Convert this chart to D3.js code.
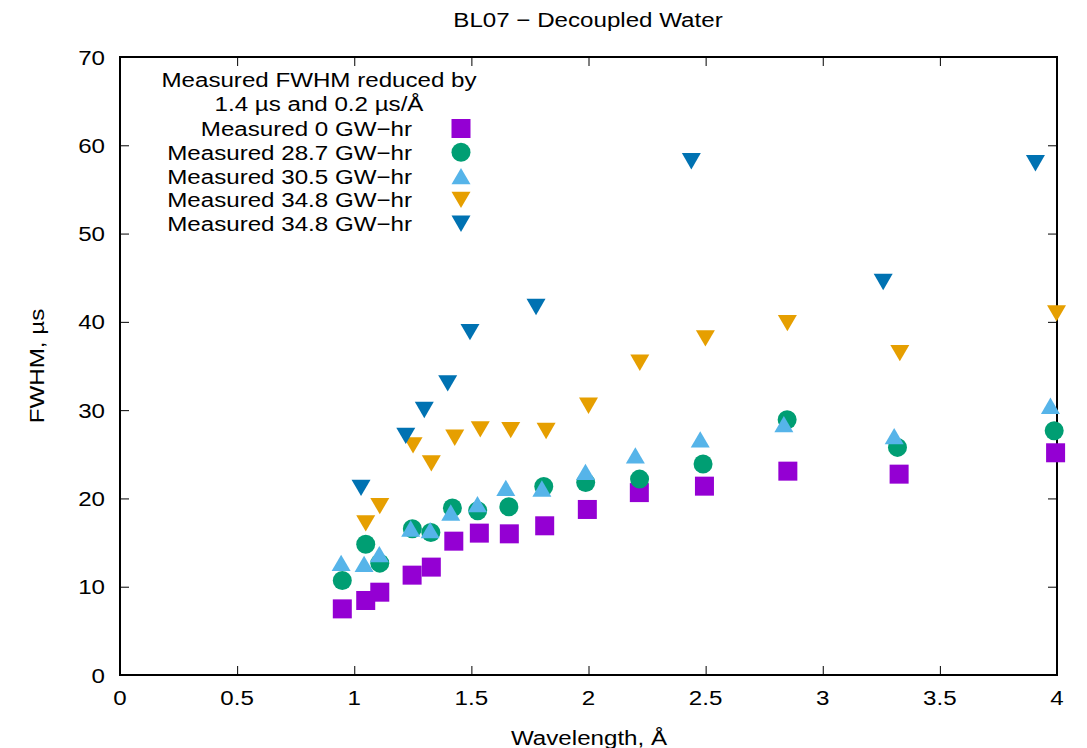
<!DOCTYPE html>
<html><head><meta charset="utf-8">
<script src="https://cdn.jsdelivr.net/npm/d3@7"></script>
<style>body{margin:0;background:#fff}svg{display:block}text{font-family:"Liberation Sans",Arial,sans-serif;fill:#000}</style>
</head><body><svg id="c" width="1087" height="748"></svg>
<script>
const title = "BL07 \u2212 Decoupled Water";
const xTitle = "Wavelength, \u00C5";
const yTitle = "FWHM, \u00B5s";
const xTicks = [0,0.5,1,1.5,2,2.5,3,3.5,4];
const yTicks = [0,10,20,30,40,50,60,70];
const legendHeader = ["Measured FWHM reduced by","1.4 \u00B5s and 0.2 \u00B5s/\u00C5"];
const seriesNames = ["Measured 0 GW\u2212hr","Measured 28.7 GW\u2212hr","Measured 30.5 GW\u2212hr","Measured 34.8 GW\u2212hr","Measured 34.8 GW\u2212hr"];
const seriesColors = ["#9400D3","#009E73","#56B4E9","#E69F00","#0072B2"];
const seriesShapes = ["square","circle","up","down","down"];

const s0x = [0.949,1.049,1.109,1.247,1.329,1.425,1.534,1.662,1.813,1.995,2.217,2.495,2.851,3.326,3.994];
const s0y = [7.49,8.44,9.38,11.31,12.22,15.16,16.07,15.99,16.90,18.75,20.66,21.39,23.09,22.75,25.17];
const s1x = [0.949,1.049,1.109,1.248,1.327,1.419,1.527,1.660,1.809,1.988,2.218,2.489,2.848,3.319,3.988];
const s1y = [10.71,14.82,12.67,16.56,16.15,18.93,18.60,19.05,21.36,21.81,22.19,23.89,28.91,25.78,27.66];
const s2x = [0.944,1.042,1.107,1.241,1.324,1.412,1.526,1.647,1.801,1.987,2.200,2.477,2.834,3.305,3.972];
const s2y = [12.70,12.59,13.69,16.60,16.41,18.41,19.35,21.20,21.13,23.01,24.88,26.69,28.42,27.06,30.49];
const s3x = [1.049,1.109,1.251,1.329,1.429,1.538,1.668,1.819,2.000,2.219,2.499,2.849,3.329,3.998];
const s3y = [17.17,19.13,26.01,23.97,26.87,27.82,27.74,27.63,30.49,35.37,38.13,39.86,36.46,40.96];
const s4x = [1.029,1.220,1.299,1.399,1.494,1.776,2.439,3.258,3.908];
const s4y = [21.20,27.09,30.01,33.03,38.84,41.68,58.19,44.51,57.96];
const seriesX = [s0x,s1x,s2x,s3x,s4x];
const seriesY = [s0y,s1y,s2y,s3y,s4y];

const FS = 21, SX = 1.15;
const L = 120, R = 1057, T = 57, B = 675;
const svg = d3.select("#c");
const x = d3.scaleLinear().domain([0,4]).range([L,R]);
const y = d3.scaleLinear().domain([0,70]).range([B,T]);

function txt(g, s, px, py, anchor, rot) {
  const t = g.append("text").attr("transform", `translate(${px},${py})` + (rot ? ` rotate(${rot})` : "") + ` scale(${SX},1)`)
    .attr("font-size", FS).attr("text-anchor", anchor || "start").text(s);
  return t;
}

// ticks (inward, all four sides)
const tl = 9;
const axB = d3.axisBottom(x).tickValues(xTicks).tickSize(-tl).tickFormat("");
const axT = d3.axisTop(x).tickValues(xTicks).tickSize(-tl).tickFormat("");
const axL = d3.axisLeft(y).tickValues(yTicks).tickSize(-tl).tickFormat("");
const axR = d3.axisRight(y).tickValues(yTicks).tickSize(-tl).tickFormat("");
[[axB,`translate(0,${B})`],[axT,`translate(0,${T})`],[axL,`translate(${L},0)`],[axR,`translate(${R},0)`]].forEach(([a,tr])=>{
  const g = svg.append("g").attr("transform", tr).call(a);
  g.select(".domain").remove();
  g.selectAll("line").attr("stroke","#000").attr("stroke-width",1);
});
svg.append("rect").attr("x",L).attr("y",T).attr("width",R-L).attr("height",B-T)
  .attr("fill","none").attr("stroke","#000").attr("stroke-width",2);

// tick labels
const lab = svg.append("g");
xTicks.forEach(v => txt(lab, String(v), x(v), 705, "middle"));
yTicks.forEach(v => txt(lab, String(v), 105, y(v) + 7.5, "end"));
txt(lab, title, 588, 27, "middle");
txt(lab, xTitle, 589, 745, "middle");
txt(lab, yTitle, 44, 366, "middle", -90);

// markers
function marker(g, shape, color, cx, cy) {
  const h = 9.5;
  if (shape === "square") g.append("rect").attr("x",cx-h).attr("y",cy-h).attr("width",2*h).attr("height",2*h).attr("fill",color);
  else if (shape === "circle") g.append("circle").attr("cx",cx).attr("cy",cy).attr("r",h).attr("fill",color);
  else if (shape === "up") g.append("path").attr("d",`M${cx-h},${cy+8.2}L${cx+h},${cy+8.2}L${cx},${cy-8.2}Z`).attr("fill",color);
  else g.append("path").attr("d",`M${cx-h},${cy-8.2}L${cx+h},${cy-8.2}L${cx},${cy+8.2}Z`).attr("fill",color);
}
const pts = svg.append("g");
seriesX.forEach((xs, i) => {
  xs.forEach((xv, j) => marker(pts, seriesShapes[i], seriesColors[i], x(xv), y(seriesY[i][j])));
});

// legend
const lg = svg.append("g");
txt(lg, legendHeader[0], 319, 87, "middle");
txt(lg, legendHeader[1], 319, 111, "middle");
seriesNames.forEach((n, i) => {
  const by = 136 + i * 23.8;
  txt(lg, n, 412, by, "end");
  marker(lg, seriesShapes[i], seriesColors[i], 461, by - 7.5);
});
</script></body></html>
